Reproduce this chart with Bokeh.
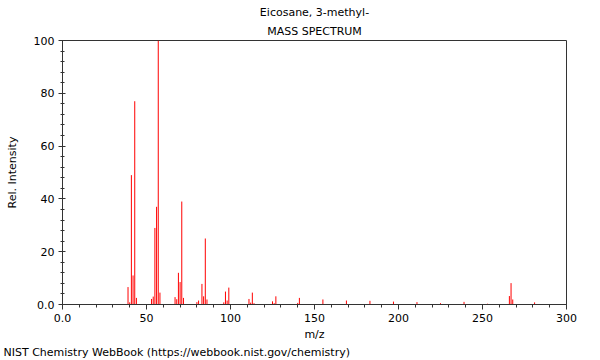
from bokeh.plotting import figure
from bokeh.models import Range1d, SingleIntervalTicker, Title, ColumnDataSource
from bokeh.embed import file_html
from bokeh.resources import INLINE

title_line1 = "Eicosane, 3-methyl-"
title_line2 = "MASS SPECTRUM"
footer = "NIST Chemistry WebBook (https://webbook.nist.gov/chemistry)"

mz = [39, 40, 41, 42, 43, 44,
      53, 54, 55, 56, 57, 58,
      67, 68, 69, 70, 71, 72,
      80, 81, 83, 84, 85, 86,
      96, 97, 98, 99,
      111, 112, 113, 114,
      125, 126, 127,
      140, 141,
      155, 169, 183, 197, 211, 225, 239, 253,
      266, 267, 268, 281]
intensity = [6.6, 0.8, 49, 11, 77, 2.5,
             2.1, 3.0, 29, 37, 100, 4.5,
             2.8, 2.0, 12, 8.5, 39, 2.5,
             0.9, 1.5, 7.8, 3.1, 25, 1.9,
             0.8, 4.9, 1.5, 6.4,
             2.1, 0.7, 4.5, 0.5,
             1.2, 0.5, 3.1,
             0.6, 2.5,
             1.9, 1.5, 1.4, 1.1, 0.9, 0.5, 1.0, 0.3,
             3.2, 8.1, 1.9, 0.8]

FONT = "DejaVu Sans"

p = figure(width=600, height=360, output_backend="svg", toolbar_location=None,
           x_range=Range1d(0, 300), y_range=Range1d(0, 100),
           min_border_left=62, min_border_right=34, min_border_top=40, min_border_bottom=56,
           title=None)
p.grid.visible = False
p.outline_line_color = "#333333"
p.background_fill_color = "white"
p.border_fill_color = "white"

src = ColumnDataSource(dict(mz=mz, y0=[0] * len(mz), inten=intensity))
p.segment(x0="mz", y0="y0", x1="mz", y1="inten", source=src, line_color="#ff0000", line_width=1)

p.xaxis.ticker = SingleIntervalTicker(interval=50, num_minor_ticks=5)
p.yaxis.ticker = SingleIntervalTicker(interval=20, num_minor_ticks=5)
p.xaxis.major_label_overrides = {0: "0.0"}
p.yaxis.major_label_overrides = {0: "0.0"}

for ax in (p.xaxis[0], p.yaxis[0]):
    ax.axis_line_color = "#333333"
    ax.major_tick_line_color = "#333333"
    ax.minor_tick_line_color = "#333333"
    ax.major_label_text_font = FONT
    ax.major_label_text_font_size = "11px"
    ax.major_label_text_color = "black"
    ax.axis_label_text_font = FONT
    ax.axis_label_text_font_size = "11px"
    ax.axis_label_text_font_style = "normal"
    ax.axis_label_text_color = "black"

p.xaxis.axis_label = "m/z"
p.xaxis.major_tick_out = 5
p.xaxis.major_tick_in = 0
p.xaxis.minor_tick_out = 3
p.xaxis.minor_tick_in = 0
p.xaxis.major_label_standoff = 4
p.xaxis.axis_label_standoff = 3

p.yaxis.axis_label = "Rel. Intensity"
p.yaxis.major_tick_out = 4
p.yaxis.major_tick_in = 3
p.yaxis.minor_tick_out = 2
p.yaxis.minor_tick_in = 2
p.yaxis.major_label_standoff = 4
p.yaxis.axis_label_standoff = 12

tcommon = dict(text_font=FONT, text_font_size="11px", text_font_style="normal",
               text_color="black")
p.add_layout(Title(text=title_line2, align="center", standoff=5, **tcommon), "above")
p.add_layout(Title(text=title_line1, align="center", standoff=3, **tcommon), "above")
p.add_layout(Title(text=footer, align="left", offset=-59, standoff=0, **tcommon), "below")

open("out.html", "w").write(file_html(p, INLINE))
